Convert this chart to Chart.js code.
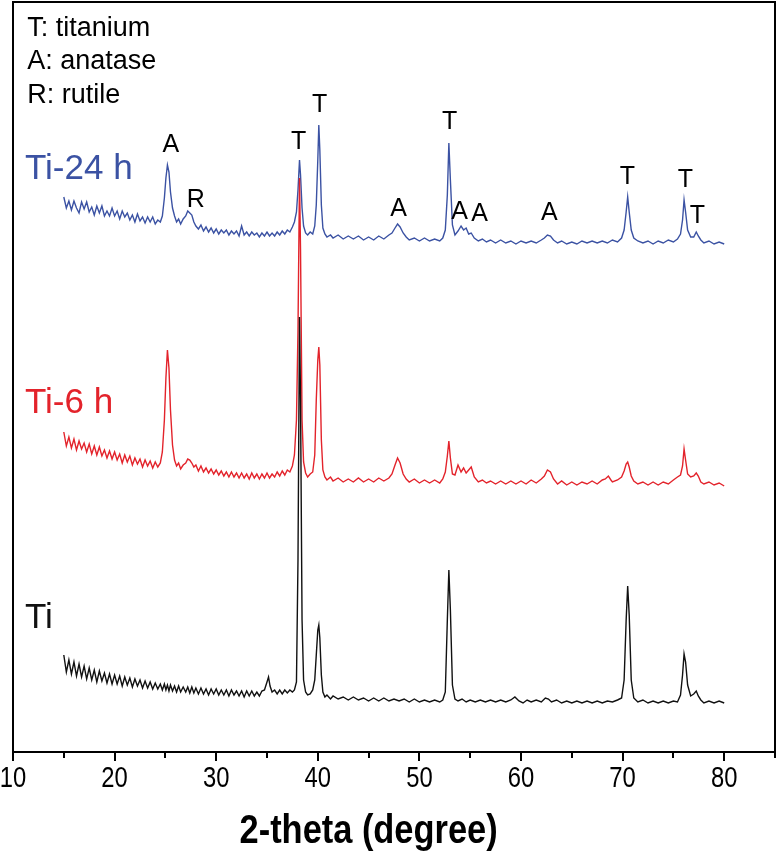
<!DOCTYPE html>
<html>
<head>
<meta charset="utf-8">
<title>XRD patterns</title>
<script src="https://cdn.jsdelivr.net/npm/chart.js"></script>
<style>
  body { margin: 0; background: #fff; }
  #wrap { width: 779px; height: 853px; position: relative; }
</style>
</head>
<body>
<div id="wrap"><canvas id="xrd"></canvas></div>
<script>
// 2-theta (degree) vs intensity (a.u., curves stacked with offsets)
const ti24h = [
  [15.00,555],[15.25,544],[15.50,551],[15.75,542],[16.00,551],[16.25,544],[16.50,539],[16.75,550],
  [17.00,543],[17.25,550],[17.50,540],[17.75,545],[18.00,537],[18.25,546],[18.50,539],[18.75,546],
  [19.00,536],[19.25,541],[19.50,536],[19.75,544],[20.00,536],[20.25,541],[20.50,533],[20.75,541],
  [21.00,535],[21.25,539],[21.50,532],[21.75,537],[22.00,530],[22.25,538],[22.50,531],[22.75,535],
  [23.00,529],[23.25,535],[23.50,530],[23.75,535],[24.00,528],[24.25,532],[24.50,530],
  [24.70,536],[24.90,554],[25.05,574],[25.20,587],[25.35,580],[25.50,560],[25.70,544],[25.90,536],
  [26.10,530],[26.30,533],[26.50,528],[26.75,533],[27.00,536],[27.20,541],[27.40,539],[27.60,537],
  [27.80,530],[28.00,526],[28.25,523],[28.50,527],[28.75,521],[29.00,525],[29.25,520],[29.50,524],
  [29.75,519],[30.00,523],[30.25,518],[30.50,522],[30.75,519],[31.00,522],[31.25,517],[31.50,521],
  [31.75,518],[32.00,521],[32.25,516],[32.50,526],[32.75,517],[33.00,520],[33.25,516],[33.50,520],
  [33.75,517],[34.00,519],[34.25,515],[34.50,519],[34.75,516],[35.00,520],[35.25,516],[35.50,519],
  [35.75,516],[36.00,520],[36.25,517],[36.50,521],[36.75,518],[37.00,522],[37.25,520],[37.50,525],
  [37.70,530],[37.90,540],[38.05,562],[38.20,592],[38.30,577],[38.45,544],[38.60,526],[38.80,519],
  [39.00,517],[39.25,520],[39.50,518],[39.70,526],[39.85,547],[40.00,592],[40.10,627],[40.20,602],
  [40.35,547],[40.50,524],[40.70,518],[40.90,515],[41.25,517],[41.50,514],[42.00,517],[42.50,513],
  [43.00,516],[43.50,513],[44.00,516],[44.50,512],[45.00,515],[45.50,512],[46.00,516],[46.50,513],
  [47.00,517],[47.30,519],[47.60,524],[47.85,528],[48.10,525],[48.40,519],[48.70,515],[49.00,512],
  [49.50,514],[50.00,511],[50.50,514],[51.00,511],[51.50,513],[52.00,511],[52.30,514],[52.55,522],
  [52.75,557],[52.90,609],[53.05,572],[53.25,527],[53.50,517],[53.80,521],[54.10,526],[54.35,522],
  [54.60,524],[54.85,518],[55.10,519],[55.40,514],[55.80,511],[56.20,513],[56.60,510],[57.00,512],
  [57.50,509],[58.00,512],[58.50,509],[59.00,511],[59.50,508],[60.00,511],[60.50,509],[61.00,511],
  [61.50,509],[62.00,512],[62.30,514],[62.60,517],[62.90,516],[63.20,512],[63.60,509],[64.00,511],
  [64.50,508],[65.00,510],[65.50,508],[66.00,511],[66.50,509],[67.00,511],[67.50,509],[68.00,511],
  [68.50,509],[69.00,512],[69.50,510],[69.90,514],[70.15,522],[70.35,540],[70.50,555],[70.65,540],
  [70.85,522],[71.10,514],[71.50,511],[72.00,509],[72.50,511],[73.00,508],[73.50,511],[74.00,509],
  [74.50,512],[75.00,510],[75.40,513],[75.70,518],[75.90,532],[76.05,552],[76.20,540],[76.40,522],
  [76.70,515],[77.00,515],[77.25,520],[77.45,516],[77.70,512],[78.00,509],[78.50,511],[79.00,508],
  [79.50,510],[80.00,508]
];

const ti6h = [
  [15.00,320],[15.25,306],[15.50,315],[15.75,304],[16.00,313],[16.25,302],[16.50,311],[16.75,303],
  [17.00,309],[17.25,300],[17.50,308],[17.75,298],[18.00,306],[18.25,297],[18.50,305],[18.75,296],
  [19.00,302],[19.25,294],[19.50,301],[19.75,293],[20.00,300],[20.25,292],[20.50,298],[20.75,289],
  [21.00,297],[21.25,290],[21.50,296],[21.75,287],[22.00,294],[22.25,288],[22.50,293],[22.75,285],
  [23.00,292],[23.25,286],[23.50,291],[23.75,284],[24.00,290],[24.25,285],[24.50,289],
  [24.70,300],[24.90,332],[25.05,374],[25.20,402],[25.35,384],[25.50,342],[25.70,307],[25.90,292],
  [26.10,286],[26.30,289],[26.50,283],[26.75,287],[27.00,289],[27.20,293],[27.40,292],[27.60,289],
  [27.80,285],[28.00,287],[28.25,281],[28.50,286],[28.75,280],[29.00,284],[29.25,279],[29.50,283],
  [29.75,278],[30.00,282],[30.25,277],[30.50,281],[30.75,276],[31.00,280],[31.25,275],[31.50,280],
  [31.75,275],[32.00,279],[32.25,274],[32.50,279],[32.75,274],[33.00,278],[33.25,273],[33.50,279],
  [33.75,274],[34.00,278],[34.25,273],[34.50,278],[34.75,274],[35.00,279],[35.25,274],[35.50,278],
  [35.75,275],[36.00,280],[36.25,276],[36.50,281],[36.75,277],[37.00,282],[37.25,280],[37.50,286],
  [37.70,297],[37.90,332],[38.05,422],[38.20,574],[38.30,502],[38.45,332],[38.60,290],[38.80,279],
  [39.00,275],[39.25,278],[39.50,280],[39.70,297],[39.85,352],[40.00,392],[40.10,405],[40.20,387],
  [40.35,312],[40.50,282],[40.70,275],[40.90,272],[41.25,275],[41.50,271],[42.00,274],[42.50,270],
  [43.00,273],[43.50,270],[44.00,274],[44.50,270],[45.00,273],[45.50,270],[46.00,274],[46.50,271],
  [47.00,274],[47.30,278],[47.60,287],[47.85,294],[48.10,289],[48.40,278],[48.70,273],[49.00,270],
  [49.50,273],[50.00,269],[50.50,272],[51.00,269],[51.50,272],[52.00,269],[52.30,273],[52.55,280],
  [52.75,296],[52.90,311],[53.05,294],[53.25,278],[53.50,277],[53.80,287],[54.10,280],[54.35,284],
  [54.60,279],[54.85,282],[55.10,285],[55.40,275],[55.80,270],[56.20,272],[56.60,269],[57.00,271],
  [57.50,268],[58.00,271],[58.50,268],[59.00,271],[59.50,268],[60.00,271],[60.50,268],[61.00,272],
  [61.50,269],[62.00,273],[62.30,276],[62.60,282],[62.90,280],[63.20,273],[63.60,268],[64.00,271],
  [64.50,267],[65.00,270],[65.50,267],[66.00,270],[66.50,268],[67.00,271],[67.50,268],[68.00,272],
  [68.30,273],[68.60,276],[68.85,272],[69.00,270],[69.50,272],[69.90,275],[70.15,281],[70.35,288],
  [70.50,290],[70.65,285],[70.85,276],[71.10,271],[71.50,268],[72.00,270],[72.50,267],[73.00,270],
  [73.50,267],[74.00,270],[74.50,268],[75.00,272],[75.40,275],[75.70,277],[75.90,286],[76.05,303],
  [76.20,292],[76.40,278],[76.70,275],[77.00,276],[77.25,279],[77.45,276],[77.70,270],[78.00,268],
  [78.50,270],[79.00,267],[79.50,269],[80.00,266]
];

const ti = [
  [15.00,97],[15.25,80],[15.50,92],[15.75,78],[16.00,90],[16.25,76],[16.50,88],[16.75,75],
  [17.00,86],[17.25,73],[17.50,84],[17.75,72],[18.00,82],[18.25,70],[18.50,81],[18.75,71],
  [19.00,79],[19.25,69],[19.50,78],[19.75,68],[20.00,77],[20.25,68],[20.50,76],[20.75,66],
  [21.00,75],[21.25,67],[21.50,74],[21.75,65],[22.00,73],[22.25,66],[22.50,72],[22.75,64],
  [23.00,71],[23.25,64],[23.50,70],[23.75,63],[24.00,69],[24.25,63],[24.50,68],[24.70,62],
  [24.90,68],[25.05,62],[25.20,67],[25.35,61],[25.50,67],[25.70,61],[25.90,66],[26.10,60],
  [26.30,66],[26.50,60],[26.75,65],[27.00,60],[27.20,65],[27.40,59],[27.60,65],[27.80,59],
  [28.00,64],[28.25,58],[28.50,64],[28.75,58],[29.00,63],[29.25,57],[29.50,63],[29.75,58],
  [30.00,63],[30.25,57],[30.50,62],[30.75,57],[31.00,62],[31.25,56],[31.50,62],[31.75,57],
  [32.00,61],[32.25,56],[32.50,61],[32.75,55],[33.00,61],[33.25,56],[33.50,61],[33.75,56],
  [34.00,60],[34.25,56],[34.50,61],[34.75,62],[35.00,70],[35.15,75],[35.30,66],[35.50,60],
  [35.75,62],[36.00,58],[36.25,62],[36.50,58],[36.75,62],[37.00,59],[37.25,62],[37.50,60],
  [37.70,62],[37.90,70],[38.05,192],[38.20,435],[38.30,352],[38.45,132],[38.60,72],[38.80,60],
  [39.00,57],[39.25,58],[39.50,62],[39.70,72],[39.85,97],[40.00,122],[40.10,127],[40.20,114],
  [40.35,77],[40.50,60],[40.70,55],[40.90,57],[41.25,53],[41.50,56],[42.00,53],[42.50,55],
  [43.00,52],[43.50,55],[44.00,52],[44.50,54],[45.00,51],[45.50,54],[46.00,51],[46.50,54],
  [47.00,51],[47.50,53],[48.00,51],[48.50,53],[49.00,50],[49.50,53],[50.00,50],[50.50,52],
  [51.00,50],[51.50,52],[52.00,50],[52.30,52],[52.55,60],[52.75,132],[52.90,182],[53.05,142],
  [53.25,67],[53.50,53],[53.80,51],[54.20,53],[54.60,50],[55.00,52],[55.50,50],[56.00,52],
  [56.50,50],[57.00,52],[57.50,50],[58.00,52],[58.50,50],[59.00,52],[59.40,55],[59.80,51],
  [60.20,49],[60.60,52],[61.00,50],[61.50,52],[62.00,50],[62.40,54],[62.70,53],[63.00,50],
  [63.50,52],[64.00,49],[64.50,51],[65.00,49],[65.50,51],[66.00,49],[66.50,51],[67.00,49],
  [67.50,51],[68.00,49],[68.50,51],[69.00,50],[69.50,52],[69.90,54],[70.15,72],[70.35,132],
  [70.50,166],[70.65,137],[70.85,72],[71.10,54],[71.50,50],[72.00,52],[72.50,49],[73.00,51],
  [73.50,49],[74.00,51],[74.50,49],[75.00,51],[75.40,50],[75.70,57],[75.90,77],[76.05,98],
  [76.20,90],[76.40,67],[76.70,56],[77.00,58],[77.25,61],[77.45,56],[77.70,52],[78.00,49],
  [78.50,51],[79.00,49],[79.50,51],[80.00,49]
];

const xTicks = [10, 20, 30, 40, 50, 60, 70, 80];
const xMinorTicks = [15, 25, 35, 45, 55, 65, 75, 85];

// phase labels over the peaks: [2-theta, intensity, text]
const peakLabels = [
  [25.54, 607, 'A'], [27.99, 552, 'R'], [38.12, 610, 'T'], [40.19, 647, 'T'],
  [47.95, 543, 'A'], [52.97, 630, 'T'], [53.95, 540, 'A'], [55.92, 538, 'A'],
  [62.80, 539, 'A'], [70.47, 575, 'T'], [76.18, 572, 'T'], [77.35, 536, 'T']
];
const curveLabels = [
  [11.18, 573, 'Ti-24 h', '#3b52a3'],
  [11.18, 339, 'Ti-6 h', '#e3232b'],
  [11.18, 124, 'Ti', '#111111']
];
const keyLines = ['T: titanium', 'A: anatase', 'R: rutile'];
const keyY = [716, 683, 649];

const toXY = arr => arr.map(([x, y]) => ({ x, y }));

// squeezed text, to mimic the narrow face used on the axis
function narrowText(ctx, text, px, py, sx) {
  ctx.save();
  ctx.translate(px, py);
  ctx.scale(sx, 1);
  ctx.fillText(text, 0, 0);
  ctx.restore();
}

const decor = {
  id: 'decor',
  afterDatasetsDraw(chart) {
    const { ctx, chartArea: a, scales: { x, y } } = chart;
    ctx.save();
    // frame
    ctx.strokeStyle = '#000';
    ctx.lineWidth = 2;
    ctx.strokeRect(a.left, a.top, a.right - a.left, a.bottom - a.top);
    // outward ticks
    xTicks.forEach(v => {
      const px = Math.round(x.getPixelForValue(v));
      ctx.beginPath(); ctx.moveTo(px, a.bottom); ctx.lineTo(px, a.bottom + 9); ctx.stroke();
    });
    xMinorTicks.forEach(v => {
      const px = Math.round(x.getPixelForValue(v));
      ctx.beginPath(); ctx.moveTo(px, a.bottom); ctx.lineTo(px, a.bottom + 6); ctx.stroke();
    });
    ctx.fillStyle = '#000';
    // tick labels
    ctx.font = '29px "Liberation Sans", Arial, sans-serif';
    ctx.textAlign = 'center';
    ctx.textBaseline = 'alphabetic';
    xTicks.forEach(v => narrowText(ctx, String(v), x.getPixelForValue(v), a.bottom + 35, 0.82));
    // axis title, centred on the 10-80 span
    ctx.font = 'bold 40px "Liberation Sans", Arial, sans-serif';
    narrowText(ctx, '2-theta (degree)', x.getPixelForValue(45), 843, 0.86);
    // peak letters
    ctx.font = '25px "Liberation Sans", Arial, sans-serif';
    ctx.textBaseline = 'middle';
    peakLabels.forEach(([v, i, t]) => ctx.fillText(t, x.getPixelForValue(v), y.getPixelForValue(i)));
    // curve names
    ctx.textAlign = 'left';
    ctx.textBaseline = 'alphabetic';
    ctx.font = '35px "Liberation Sans", Arial, sans-serif';
    curveLabels.forEach(([v, i, t, c]) => {
      ctx.fillStyle = c;
      ctx.fillText(t, x.getPixelForValue(v), y.getPixelForValue(i));
    });
    // key
    ctx.fillStyle = '#000';
    ctx.font = '27px "Liberation Sans", Arial, sans-serif';
    keyLines.forEach((t, k) => ctx.fillText(t, x.getPixelForValue(11.4), y.getPixelForValue(keyY[k])));
    ctx.restore();
  }
};

new Chart(document.getElementById('xrd'), {
  type: 'line',
  data: {
    datasets: [
      { label: 'Ti', data: toXY(ti), borderColor: '#111111', order: 0 },
      { label: 'Ti-6 h', data: toXY(ti6h), borderColor: '#e3232b', order: 1 },
      { label: 'Ti-24 h', data: toXY(ti24h), borderColor: '#3b52a3', order: 2 }
    ]
  },
  options: {
    responsive: true,
    maintainAspectRatio: false,
    animation: false,
    devicePixelRatio: 1,
    parsing: false,
    elements: {
      line: { borderWidth: 1.4, tension: 0 },
      point: { radius: 0 }
    },
    layout: { padding: { left: 13, right: 4, top: 2, bottom: 0 } },
    plugins: { legend: { display: false }, tooltip: { enabled: false } },
    scales: {
      x: {
        type: 'linear',
        min: 10,
        max: 85,
        afterBuildTicks: s => { s.ticks = xTicks.map(v => ({ value: v })); },
        afterFit: s => { s.height = 101; s.paddingLeft = 0; s.paddingRight = 0; },
        grid: { display: false, drawTicks: false },
        border: { display: false },
        ticks: { display: false }
      },
      y: { display: false, min: 0, max: 750 }
    }
  },
  plugins: [decor]
});
</script>
</body>
</html>
